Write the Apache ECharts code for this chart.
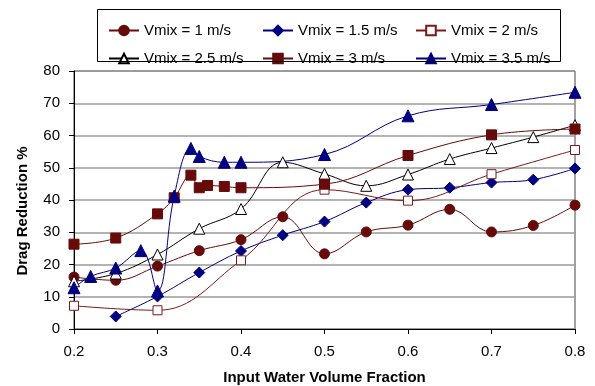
<!DOCTYPE html>
<html>
<head>
<meta charset="utf-8">
<script src="https://cdn.jsdelivr.net/npm/echarts@6/dist/echarts.min.js"></script>
<style>
  html, body { margin: 0; padding: 0; background: #fff; }
  #chart { width: 595px; height: 386px; }
</style>
</head>
<body>
<div id="chart"></div>
<script>
// values
var names = ['Vmix = 1 m/s', 'Vmix = 1.5 m/s', 'Vmix = 2 m/s', 'Vmix = 2.5 m/s', 'Vmix = 3 m/s', 'Vmix = 3.5 m/s'];

var x1 = [0.2, 0.25, 0.3, 0.35, 0.4, 0.45, 0.5, 0.55, 0.6, 0.65, 0.7, 0.75, 0.8];
var y1 = [16.1, 15.1, 19.5, 24.3, 27.7, 34.8, 23.3, 30.1, 32.2, 37.1, 30.1, 32.1, 38.4];

var x15 = [0.25, 0.3, 0.35, 0.4, 0.45, 0.5, 0.55, 0.6, 0.65, 0.7, 0.75, 0.8];
var y15 = [3.9, 10.1, 17.5, 24.2, 29.1, 33.3, 39.2, 43.2, 43.8, 45.4, 46.3, 49.8];

var x2 = [0.2, 0.3, 0.4, 0.5, 0.6, 0.7, 0.8];
var y2 = [7.2, 5.8, 21.3, 43.2, 39.8, 48.0, 55.5];

var x25 = [0.2, 0.25, 0.3, 0.35, 0.4, 0.45, 0.5, 0.55, 0.6, 0.65, 0.7, 0.75, 0.8];
var y25 = [14.8, 17.2, 23.1, 31.1, 37.2, 51.7, 48.1, 44.4, 47.9, 52.7, 56.1, 59.5, 63.2];

var x3 = [0.2, 0.25, 0.3, 0.32, 0.34, 0.35, 0.36, 0.38, 0.4, 0.5, 0.6, 0.7, 0.8];
var y3 = [26.3, 28.2, 35.7, 40.7, 47.7, 43.8, 44.5, 44.2, 43.8, 44.9, 53.8, 60.2, 62.0];

var x35 = [0.2, 0.22, 0.25, 0.28, 0.3, 0.32, 0.34, 0.35, 0.38, 0.4, 0.5, 0.6, 0.7, 0.8];
var y35 = [12.8, 16.3, 18.9, 24.3, 11.8, 41.2, 56.0, 53.5, 51.7, 51.7, 54.1, 66.1, 69.6, 73.4];

var xTicks = [0.2, 0.3, 0.4, 0.5, 0.6, 0.7, 0.8];

function pairs(xs, ys) {
  return xs.map(function (x, i) { return [x, ys[i]]; });
}

var red = '#660a0a';
var navy = '#000080';
var font = "'Liberation Sans', Arial, sans-serif";

var myChart = echarts.init(document.getElementById('chart'));

function mkSeries(name, data, color, symbol, size, fill) {
  return {
    name: name,
    type: 'line',
    data: data,
    smooth: 0.4,
    symbol: symbol,
    symbolSize: size,
    showAllSymbol: true,
    lineStyle: { color: color, width: 1 },
    itemStyle: { color: fill, borderColor: color, borderWidth: 1 },
    emphasis: { disabled: true },
    animation: false
  };
}

var legendBase = {
  orient: 'vertical',
  top: 18,
  itemWidth: 30,
  itemHeight: 12,
  itemGap: 13,
  textStyle: { fontFamily: font, fontSize: 15, color: '#000', padding: [0, 0, 0, 0] },
  selectedMode: false
};

var option = {
  backgroundColor: '#fff',
  grid: {
    left: 74, right: 20, top: 71, bottom: 57,
    outerBoundsMode: 'none', containLabel: false,
    show: true, borderColor: '#444', borderWidth: 1
  },
  graphic: [
    { type: 'rect', shape: { x: 97.5, y: 9.5, width: 463, height: 52 },
      style: { fill: 'none', stroke: '#000', lineWidth: 1 }, z: 10 },
    { type: 'text', x: 23, y: 211, rotation: Math.PI / 2,
      style: { text: 'Drag Reduction %', fontFamily: font, fontSize: 15, fontWeight: 'bold',
               fill: '#000', align: 'center', verticalAlign: 'middle' } }
  ],
  legend: [
    Object.assign({ left: 103, data: [names[0], names[3]] }, legendBase),
    Object.assign({ left: 257, data: [names[1], names[4]] }, legendBase),
    Object.assign({ left: 410, data: [names[2], names[5]] }, legendBase)
  ],
  xAxis: {
    type: 'value',
    min: 0.2,
    max: 0.8,
    interval: 0.1,
    name: 'Input Water Volume Fraction',
    nameLocation: 'middle',
    nameGap: 41,
    nameTextStyle: { fontFamily: font, fontSize: 15, fontWeight: 'bold', color: '#000' },
    axisLine: { lineStyle: { color: '#000', width: 1 } },
    axisTick: { show: true, inside: false, length: 5, lineStyle: { color: '#000' } },
    axisLabel: {
      fontFamily: font, fontSize: 15, color: '#000', margin: 15,
      formatter: function (v) { return v.toFixed(1); },
      customValues: xTicks
    },
    splitLine: { show: false }
  },
  yAxis: {
    type: 'value',
    min: 0,
    max: 80,
    interval: 10,
    axisLine: { show: true, lineStyle: { color: '#000', width: 1 } },
    axisTick: { show: true, inside: false, length: 5, lineStyle: { color: '#000' } },
    axisLabel: { fontFamily: font, fontSize: 15, color: '#000', margin: 14 },
    splitLine: { show: true, lineStyle: { color: '#9a9a9a', width: 1.5 } }
  },
  series: [
    mkSeries(names[0], pairs(x1, y1), red, 'circle', 10, red),
    mkSeries(names[1], pairs(x15, y15), navy, 'diamond', 11, navy),
    mkSeries(names[2], pairs(x2, y2), '#7a1a1a', 'rect', 9, '#fff'),
    mkSeries(names[3], pairs(x25, y25), '#000', 'triangle', 11, '#fff'),
    mkSeries(names[4], pairs(x3, y3), red, 'rect', 10, red),
    mkSeries(names[5], pairs(x35, y35), navy, 'triangle', 12, navy)
  ]
};

myChart.setOption(option);
</script>
</body>
</html>
